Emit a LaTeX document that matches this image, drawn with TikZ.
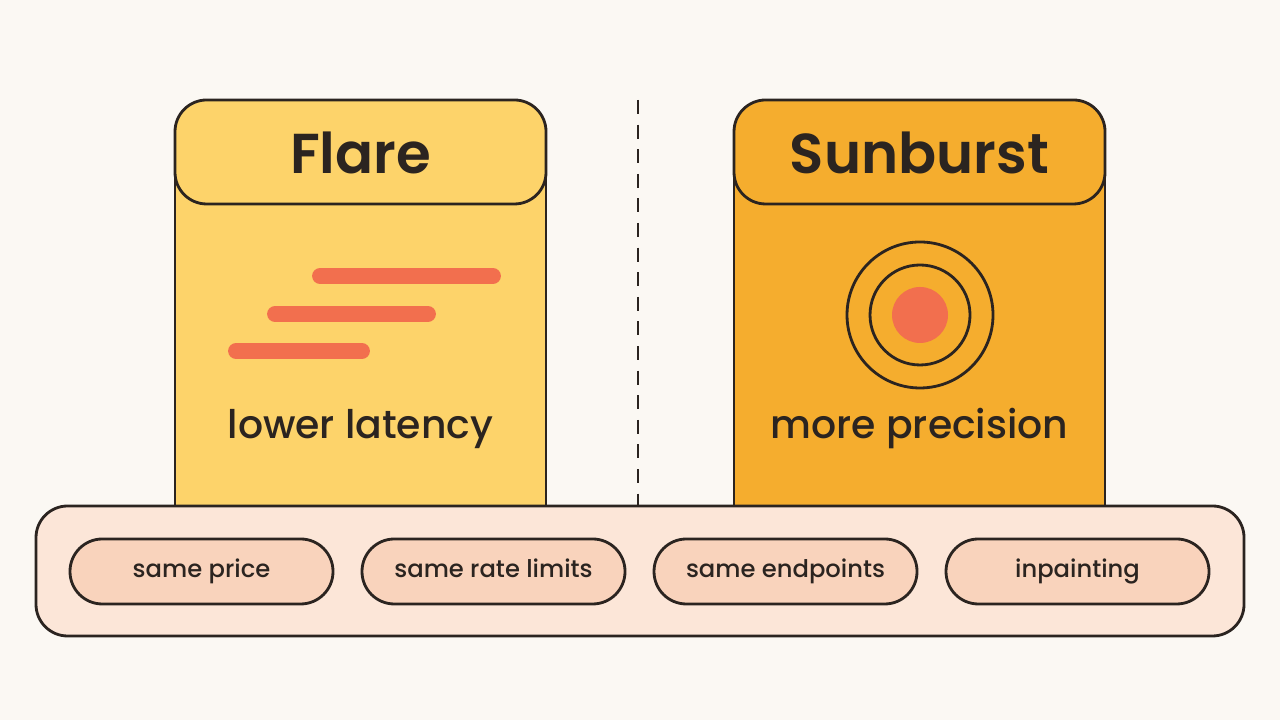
\documentclass[tikz,border=0pt]{standalone}
\usepackage{fontspec}
\setmainfont{Poppins}
\newfontfamily\titlefont{Poppins SemiBold}
\newfontfamily\bodyfont{Poppins Medium}
\definecolor{bgcol}{HTML}{FBF8F3}
\definecolor{flarecol}{HTML}{FDD36A}
\definecolor{suncol}{HTML}{F5AD2E}
\definecolor{barcol}{HTML}{FCE6D8}
\definecolor{pillcol}{HTML}{F9D3BC}
\definecolor{coral}{HTML}{F26F4E}
\definecolor{inkcol}{HTML}{2B2420}
\tikzset{
  card/.style={draw=inkcol, line width=0.8pt, rounded corners=9pt},
  pill/.style={draw=inkcol, line width=0.8pt, rounded corners=9.2pt, fill=pillcol,
    minimum width=2.63cm, minimum height=0.65cm, text height=1.3ex, text depth=0.7ex,
    font=\bodyfont\fontsize{6.9}{8}\selectfont\color{inkcol}},
  title/.style={font=\titlefont\fontsize{16}{18}\selectfont, text=inkcol},
  caption/.style={font=\bodyfont\fontsize{11.2}{13}\selectfont, text=inkcol},
  stroke/.style={coral, line width=4.5pt, line cap=round},
}
\begin{document}
\begin{tikzpicture}
\fill[bgcol] (0,0) rectangle (12.8,7.2);
\useasboundingbox (0,0) rectangle (12.8,7.2);

% Flare card
\draw[card, fill=flarecol, sharp corners] (1.75,2.15) -- (1.75,5.7) -- (5.46,5.7) -- (5.46,2.15);
\draw[card, fill=flarecol] (1.75,5.16) rectangle (5.46,6.2);
\node[title] (flare) at (3.605,5.67) {Flare};
\draw[stroke] (3.2,4.44) -- (4.93,4.44);
\draw[stroke] (2.75,4.06) -- (4.28,4.06);
\draw[stroke] (2.36,3.69) -- (3.62,3.69);
\node[caption] (lat) at (3.605,2.91) {lower latency};

% divider
\draw[inkcol, line width=0.8pt, dash pattern=on 4pt off 3pt] (6.38,6.2) -- (6.38,2.15);

% Sunburst card
\draw[card, fill=suncol, sharp corners] (7.34,2.15) -- (7.34,5.7) -- (11.05,5.7) -- (11.05,2.15);
\draw[card, fill=suncol] (7.34,5.16) rectangle (11.05,6.2);
\node[title] (sun) at (9.195,5.67) {Sunburst};
\draw[inkcol, line width=0.8pt] (9.2,4.05) circle (0.73) (9.2,4.05) circle (0.5);
\fill[coral] (9.2,4.05) circle (0.28);
\node[caption] (prec) at (9.195,2.91) {more precision};

% shared bar
\draw[card, fill=barcol] (0.36,0.84) rectangle (12.44,2.14);
\node[pill] (p1) at (2.015,1.485) {same price};
\node[pill] (p2) at (4.935,1.485) {same rate limits};
\node[pill] (p3) at (7.855,1.485) {same endpoints};
\node[pill] (p4) at (10.775,1.485) {inpainting};
\end{tikzpicture}
\end{document}
